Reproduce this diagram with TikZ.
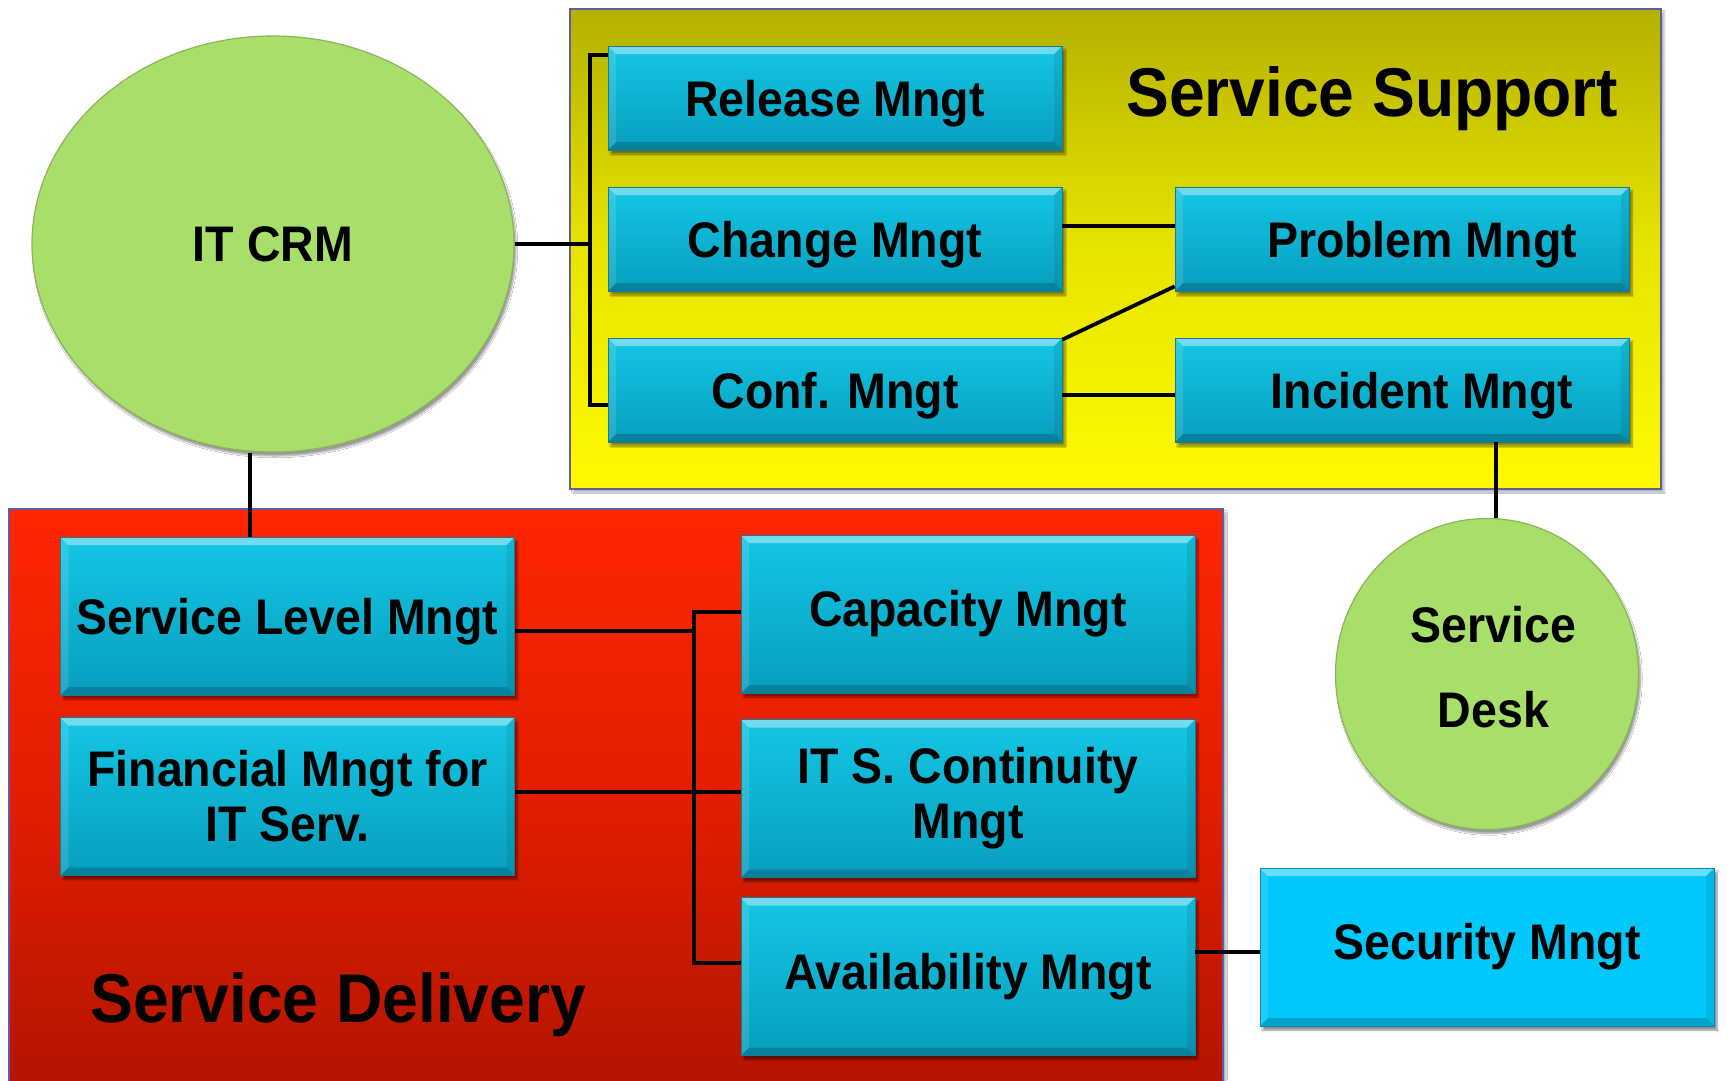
\documentclass[tikz,border=0pt]{standalone}
\usepackage{fontspec}
\newfontfamily\labelfont{Liberation Sans}[FakeStretch=0.93]
\usetikzlibrary{shapes.geometric,shadows.blur,calc}

\definecolor{modTop}{RGB}{20,198,228}
\definecolor{modBot}{RGB}{8,158,190}
\definecolor{modEdge}{RGB}{30,120,145}
\definecolor{secFill}{RGB}{0,200,250}
\definecolor{ssTop}{RGB}{180,177,0}
\definecolor{ssMid}{RGB}{232,228,0}
\definecolor{ssBot}{RGB}{255,250,0}
\definecolor{sdTop}{RGB}{255,38,0}
\definecolor{sdMid}{RGB}{226,30,0}
\definecolor{sdBot}{RGB}{178,20,0}
\definecolor{frame}{RGB}{95,95,160}
\definecolor{blobGreen}{RGB}{168,222,106}

\tikzset{
  bevel/.style={path picture={
    \fill[white,opacity=0.4] (path picture bounding box.north west) -- (path picture bounding box.north east)
      -- ([shift={(-8pt,-8pt)}]path picture bounding box.north east) -- ([shift={(8pt,-8pt)}]path picture bounding box.north west) -- cycle;
    \fill[white,opacity=0.12] (path picture bounding box.north west) -- ([shift={(8pt,-8pt)}]path picture bounding box.north west)
      -- ([shift={(8pt,8pt)}]path picture bounding box.south west) -- (path picture bounding box.south west) -- cycle;
    \fill[black,opacity=0.08] (path picture bounding box.north east) -- ([shift={(-8pt,-8pt)}]path picture bounding box.north east)
      -- ([shift={(-8pt,8pt)}]path picture bounding box.south east) -- (path picture bounding box.south east) -- cycle;
    \fill[black,opacity=0.18] (path picture bounding box.south west) -- (path picture bounding box.south east)
      -- ([shift={(-8pt,8pt)}]path picture bounding box.south east) -- ([shift={(8pt,8pt)}]path picture bounding box.south west) -- cycle;
  }},
  module/.style={rectangle, draw=modEdge, line width=0.8pt, top color=modTop, bottom color=modBot,
    minimum width=454pt, minimum height=104pt, inner sep=0pt, align=center,
    font=\labelfont\bfseries\fontsize{50}{55}\selectfont, bevel,
    blur shadow={shadow xshift=3pt, shadow yshift=-4pt, shadow blur steps=6, shadow opacity=45}},
  capscentred/.style={text height=36pt, text depth=0pt},
  tall/.style={minimum height=158pt},
  blob/.style={ellipse, fill=blobGreen, draw=blobGreen!82!black, line width=1.2pt, inner sep=0pt, align=center,
    font=\labelfont\bfseries\fontsize{50}{85}\selectfont,
    blur shadow={shadow xshift=2pt, shadow yshift=-4pt, shadow blur steps=6, shadow opacity=40}},
  blobtext/.style={inner sep=0pt, align=center, font=\labelfont\bfseries\fontsize{50}{85}\selectfont},
  area/.style={draw=frame, line width=1.5pt,
    blur shadow={shadow xshift=3pt, shadow yshift=-3pt, shadow blur steps=4, shadow opacity=30}},
  heading/.style={anchor=base west, inner sep=0pt, font=\labelfont\bfseries\fontsize{69}{80}\selectfont},
  link/.style={draw=black, line width=3.8pt}
}

\begin{document}
\begin{tikzpicture}[x=1pt,y=-1pt]
\useasboundingbox (0,0) rectangle (1727,1080);
\fill[white] (0,0) rectangle (1727,1080);

% group areas
\path[area, top color=ssTop, bottom color=ssBot, middle color=ssMid] (570,9) rectangle (1661,489);
\path[area, top color=sdTop, bottom color=sdBot, middle color=sdMid] (9,509) rectangle (1223,1095);

\node[heading] (ssTitle) at (1126,116) {Service Support};
\node[heading] (sdTitle) at (90,1022) {Service Delivery};

% customer relationship and desk
\node[blob, minimum width=482pt, minimum height=416pt] (crm) at (273,244) {IT CRM};
\node[blob, minimum width=303pt, minimum height=311pt] (desk) at (1487,674) {};
\node[blobtext] (deskLabel) at ([xshift=6.5pt,yshift=6.5pt]desk.center) {Service\\Desk};

% service support processes
\node[module, capscentred] (rel) at (835,98) {Release Mngt};
\node[module, capscentred] (chg) at (835,239) {Change Mngt};
\node[module, capscentred] (cnf) at (835,390) {Conf. Mngt};
\node[module, capscentred] (prb) at (1402,239) {\hspace*{40pt}Problem Mngt};
\node[module, capscentred] (inc) at (1402,390) {\hspace*{40pt}Incident Mngt};

% service delivery processes
\node[module, tall, capscentred] (slm) at (287.5,616) {Service Level Mngt};
\node[module, tall] (fin) at (287.5,796.5) {Financial Mngt for\\IT Serv.};
\node[module, tall] (cap) at (968,614) {Capacity Mngt};
\node[module, tall] (itsc) at (968,798.5) {IT S. Continuity\\Mngt};
\node[module, tall] (avail) at (968,976.5) {Availability Mngt};
\node[module, tall, top color=secFill, bottom color=secFill, draw=secFill!70!black] (sec) at (1487,947) {Security Mngt};

% connectors
\coordinate (brTop) at (590,55);
\coordinate (brBot) at (590,405);
\draw[link] (brTop -| rel.west) -- (brTop) -- (brBot) -- (brBot -| cnf.west);
\draw[link] (crm.east) -- (crm.east -| brTop);
\draw[link] ([yshift=13pt]chg.east) -- ([yshift=13pt]chg.east -| prb.west);
\draw[link] ([yshift=-5pt]cnf.east) -- ([yshift=-5pt]cnf.east -| inc.west);
\draw[link] ([yshift=-2pt]cnf.north east) -- ([yshift=5pt]prb.south west);
\coordinate (deskDrop) at (1496,0);
\draw[link] (inc.south -| deskDrop) -- (desk.north -| deskDrop);
\coordinate (crmDrop) at (250,0);
\draw[link] (crm.south -| crmDrop) -- (slm.north -| crmDrop);

\coordinate (busTop) at (694,612);
\coordinate (busBot) at (694,963);
\draw[link] (busTop -| cap.west) -- (busTop) -- (busBot) -- (busBot -| avail.west);
\draw[link] ([yshift=-15pt]slm.east) -- ([yshift=-15pt]slm.east -| busTop);
\draw[link] ([yshift=4.5pt]fin.east) -- ([yshift=4.5pt]fin.east -| itsc.west);
\draw[link] ([yshift=-5pt]sec.west) -- ([yshift=-5pt]sec.west -| avail.east);
\end{tikzpicture}
\end{document}
